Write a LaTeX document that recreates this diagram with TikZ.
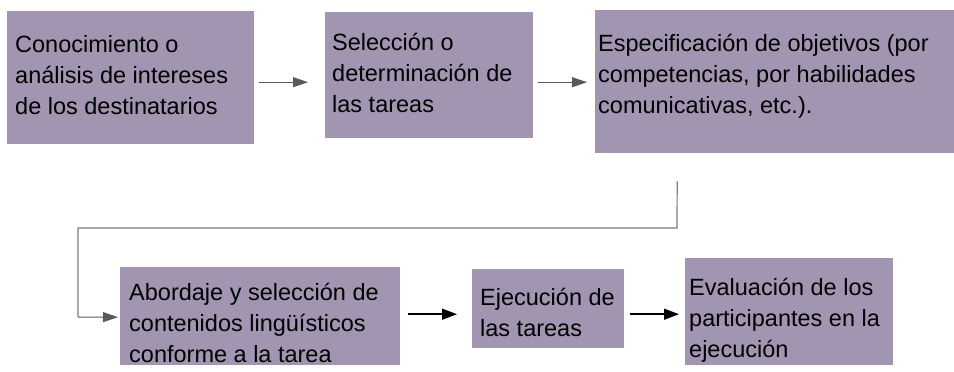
\documentclass[tikz,border=0pt]{standalone}
\usepackage{fontspec}
\setmainfont{Liberation Sans}
\usetikzlibrary{arrows.meta}
\definecolor{boxfill}{RGB}{161,149,178}
\definecolor{arrgray}{RGB}{90,90,90}
\begin{document}
\begin{tikzpicture}[x=1pt,y=1pt,
  boxshape/.style={fill=boxfill,draw=none,inner sep=0pt,anchor=north west},
  boxtext/.style={anchor=north west,inner sep=0pt,align=left,font=\fontsize{23.5}{31}\selectfont},
  grayarrow/.style={draw=arrgray,line width=1pt,-{Triangle[length=15pt,width=10pt]}},
  blackarrow/.style={draw=black,line width=1.4pt,-{Triangle[length=15pt,width=11pt]}},
  grayline/.style={draw=arrgray!80,line width=1.2pt}]
\useasboundingbox (0,0) rectangle (954,372);
% boxes
\node[boxshape,minimum width=247pt,minimum height=133pt] (b1) at (7,361) {};
\node[boxshape,minimum width=208pt,minimum height=126pt] (b2) at (325,360) {};
\node[boxshape,minimum width=359pt,minimum height=143pt] (b3) at (595,362) {};
\node[boxshape,minimum width=280pt,minimum height=98pt] (b4) at (120,105) {};
\node[boxshape,minimum width=152pt,minimum height=79pt] (b5) at (472,103) {};
\node[boxshape,minimum width=208pt,minimum height=107pt] (b6) at (685,114) {};
% texts
\node[boxtext] (t1) at (15,340) {\rule{0pt}{20pt}Conocimiento o\\análisis de intereses\\de los destinatarios};
\node[boxtext] (t2) at (332,342) {\rule{0pt}{20pt}Selección o\\determinación de\\las tareas};
\node[boxtext] (t3) at (598,341) {\rule{0pt}{20pt}Especificación de objetivos (por\\competencias, por habilidades\\comunicativas, etc.).};
\node[boxtext] (t4) at (129,92) {\rule{0pt}{20pt}Abordaje y selección de\\contenidos lingüísticos\\conforme a la tarea};
\node[boxtext] (t5) at (480,87) {\rule{0pt}{20pt}Ejecución de\\las tareas};
\node[boxtext] (t6) at (689,97) {\rule{0pt}{20pt}Evaluación de los\\participantes en la\\ejecución};
% connectors
\draw[grayarrow] ([shift={(5pt,-4.5pt)}]b1.east) -- ([shift={(-17pt,-7pt)}]b2.west);
\draw[grayarrow] ([shift={(5pt,-7pt)}]b2.east) -- ([shift={(-8pt,-0.5pt)}]b3.west);
\coordinate (c1) at (677,144);
\coordinate (c2) at (78,144);
\coordinate (c3) at (78,55);
\draw[grayline] ([shift={(-97.5pt,-28pt)}]b3.south) -- (c1) -- (c2) -- (c3);
\draw[grayarrow] (c3) -- ([shift={(-2pt,-1pt)}]b4.west);
\draw[blackarrow] ([shift={(8pt,2pt)}]b4.east) -- ([shift={(-15pt,-5.5pt)}]b5.west);
\draw[blackarrow] ([shift={(6pt,-5.5pt)}]b5.east) -- ([shift={(-6pt,-2.5pt)}]b6.west);
\end{tikzpicture}
\end{document}
